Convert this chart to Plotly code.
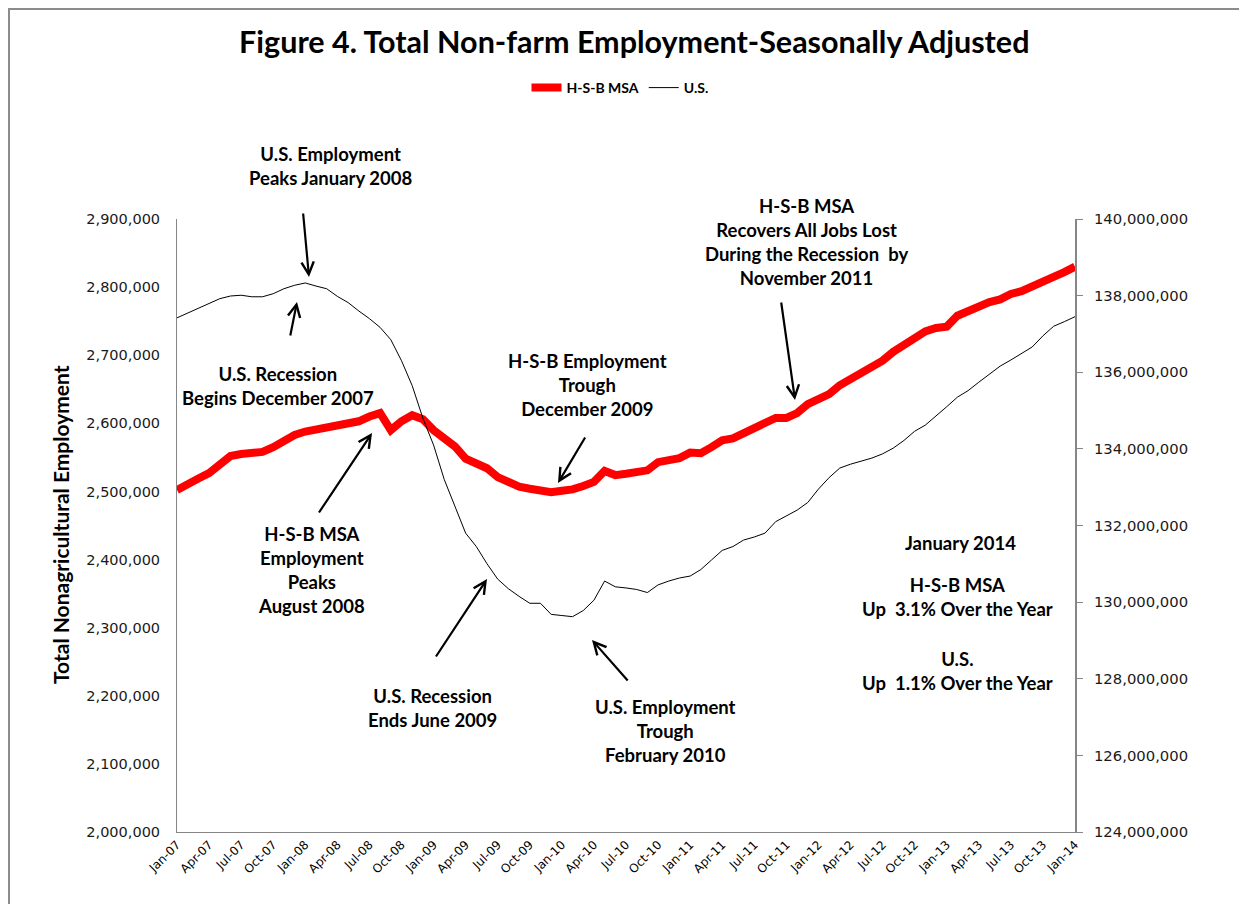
import plotly.graph_objects as go

# ---- data ----
month_names = ["Jan", "Feb", "Mar", "Apr", "May", "Jun", "Jul", "Aug", "Sep", "Oct", "Nov", "Dec"]
years = ["07", "08", "09", "10", "11", "12", "13"]
months = [f"{m}-{y}" for y in years for m in month_names] + ["Jan-14"]
tick_labels = months[::3]

hsb_msa = [2502000, 2509000, 2519000, 2527000, 2538000, 2552000, 2555000, 2556000, 2558000, 2565000, 2575000, 2583000,
           2588000, 2591000, 2594000, 2595000, 2600000, 2603000, 2610000, 2615000, 2590000, 2603000, 2612000, 2606000,
           2590000, 2578000, 2566000, 2548000, 2541000, 2534000, 2521000, 2513000, 2507000, 2504000, 2502000, 2499000,
           2501000, 2503000, 2508000, 2514000, 2530000, 2524000, 2526000, 2530000, 2531000, 2543000, 2545000, 2549000,
           2557000, 2556000, 2565000, 2575000, 2578000, 2585000, 2591000, 2598000, 2608000, 2608000, 2615000, 2628000,
           2636000, 2643000, 2656000, 2665000, 2677000, 2686000, 2692000, 2705000, 2716000, 2727000, 2735000, 2740000,
           2742000, 2758000, 2765000, 2774000, 2778000, 2782000, 2790000, 2794000, 2800000, 2808000, 2815000, 2822000,
           2830000]

us = [137420000, 137550000, 137680000, 137800000, 137920000, 137990000, 138010000, 137970000, 137970000, 138050000, 138180000, 138270000,
      138330000, 138250000, 138180000, 137980000, 137820000, 137600000, 137400000, 137170000, 136850000, 136300000, 135650000, 134800000,
      134100000, 133200000, 132500000, 131800000, 131450000, 131000000, 130600000, 130350000, 130150000, 129970000, 129970000, 129680000,
      129650000, 129620000, 129780000, 130050000, 130550000, 130400000, 130370000, 130330000, 130250000, 130450000, 130550000, 130630000,
      130680000, 130850000, 131100000, 131350000, 131450000, 131620000, 131700000, 131800000, 132100000, 132250000, 132400000, 132600000,
      132950000, 133250000, 133500000, 133600000, 133680000, 133760000, 133870000, 134020000, 134220000, 134460000, 134620000, 134850000,
      135100000, 135350000, 135520000, 135740000, 135940000, 136160000, 136320000, 136500000, 136660000, 136950000, 137200000, 137320000,
      137450000]

# ---- layout helpers (page pixel -> paper); page has an 8px body margin ----
OFF = 8
W, H = 1247, 904
L, R, T, B = 177, 1075, 219, 832
def px(x):
    return (x - L) / (R - L)
def py(y):
    return (B - y) / (B - T)

ann_font = dict(family="Lato", size=18.5, color="black")

fig = go.Figure()
fig.add_trace(go.Scatter(x=months, y=hsb_msa, name="<b>H-S-B MSA</b>", mode="lines",
                         line=dict(color="#ff0000", width=8), yaxis="y"))
fig.add_trace(go.Scatter(x=months, y=us, name="<b>U.S.</b>", mode="lines",
                         line=dict(color="black", width=1), yaxis="y2"))

texts = [
    ("<b>U.S. Employment<br>Peaks January 2008</b>", 330, 166),
    ("<b>U.S. Recession<br>Begins December 2007</b>", 278, 386),
    ("<b>H-S-B Employment<br>Trough<br>December 2009</b>", 587, 385),
    ("<b>H-S-B MSA<br>Recovers All Jobs Lost<br>During the Recession  by<br>November 2011</b>", 806, 242),
    ("<b>H-S-B MSA<br>Employment<br>Peaks<br>August 2008</b>", 311, 570),
    ("<b>U.S. Recession<br>Ends June 2009</b>", 432, 708),
    ("<b>U.S. Employment<br>Trough<br>February 2010</b>", 665, 731),
    ("<b>January 2014</b>", 960, 543),
    ("<b>H-S-B MSA<br>Up  3.1% Over the Year</b>", 957, 597),
    ("<b>U.S.<br>Up  1.1% Over the Year</b>", 957, 671),
]
annotations = []
for t, x, y in texts:
    annotations.append(dict(text=t, x=px(x), y=py(y), xref="paper", yref="paper",
                            showarrow=False, font=ann_font, align="center",
                            xanchor="center", yanchor="middle"))

arrows = [
    ((303, 212), (309, 277)),
    ((290, 337), (297, 302)),
    ((586, 436), (558, 483)),
    ((781, 301), (795, 400)),
    ((318, 514), (372, 433)),
    ((435, 658), (487, 579)),
    ((629, 682), (592, 640)),
]
for (tx, ty), (hx, hy) in arrows:
    annotations.append(dict(text="", x=px(hx), y=py(hy), xref="paper", yref="paper",
                            ax=tx - hx, ay=ty - hy, axref="pixel", ayref="pixel",
                            showarrow=True, arrowhead=5, arrowsize=1.1, arrowwidth=2.2,
                            arrowcolor="black"))

annotations.append(dict(text="<b>Total Nonagricultural Employment</b>", x=px(60), y=py(525),
                        xref="paper", yref="paper", showarrow=False, textangle=-90,
                        font=dict(family="Lato", size=21, color="black"),
                        xanchor="center", yanchor="middle"))

fig.update_layout(
    width=W, height=H,
    margin=dict(l=L - OFF, r=W - (R - OFF), t=T - OFF, b=H - (B - OFF), pad=0),
    paper_bgcolor="white", plot_bgcolor="white",
    title=dict(text="<b>Figure 4. Total Non-farm Employment-Seasonally Adjusted</b>",
               x=px(628), xanchor="center", y=1 - (42 - OFF) / H, yanchor="middle",
               font=dict(family="Lato", size=30.5, color="black")),
    showlegend=True,
    legend=dict(orientation="h", x=px(620), xanchor="center", y=py(88), yanchor="middle",
                font=dict(family="Lato", size=14, color="black"), bgcolor="rgba(0,0,0,0)",
                itemwidth=30, tracegroupgap=0),
    xaxis=dict(type="category", categoryorder="array", categoryarray=months,
               range=[0, 84], tickmode="array", tickvals=tick_labels, ticktext=tick_labels,
               tickangle=-45, tickfont=dict(family="DejaVu Sans", size=12, color="black"),
               showline=True, linecolor="#868686", linewidth=1, showgrid=False,
               ticks="", zeroline=False),
    yaxis=dict(range=[2000000, 2900000], dtick=100000, tickformat=",d",
               tickfont=dict(family="DejaVu Sans", size=14.5, color="#1a1a1a"),
               showline=True, linecolor="#868686", linewidth=1, showgrid=False,
               ticks="", zeroline=False, ticklabelstandoff=13),
    yaxis2=dict(range=[124000000, 140000000], dtick=2000000, tickformat=",d",
                overlaying="y", side="right",
                tickfont=dict(family="DejaVu Sans", size=14.8, color="#1a1a1a"),
                showline=True, linecolor="#868686", linewidth=2, showgrid=False,
                ticks="outside", ticklen=6, tickcolor="#868686", zeroline=False,
                ticklabelstandoff=8),
    annotations=annotations,
    shapes=[dict(type="rect", xref="paper", yref="paper",
                 x0=px(OFF + 1), x1=px(1270), y0=py(930), y1=py(OFF + 1),
                 line=dict(color="#8c8c8c", width=2), fillcolor="rgba(0,0,0,0)")],
)

fig.write_html("out.html")
